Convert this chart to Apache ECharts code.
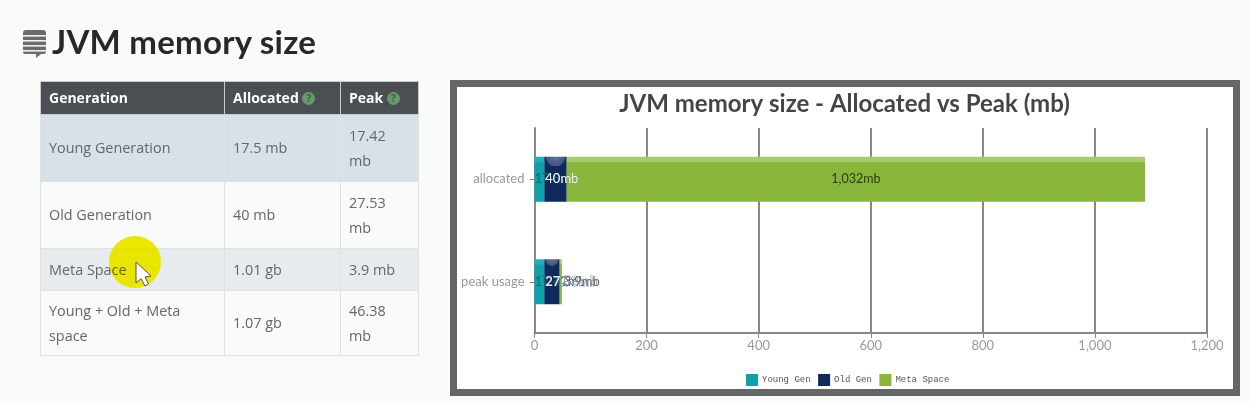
<!DOCTYPE html>
<html>
<head>
<meta charset="utf-8">
<script src="https://cdn.jsdelivr.net/npm/echarts@6/dist/echarts.min.js"></script>
<style>
html,body{margin:0;padding:0;width:1250px;height:403px;overflow:hidden;background:#f9fafa;font-family:"Open Sans",sans-serif}
#h{position:absolute;left:52px;top:21px;font:700 33px/40px Lato,sans-serif;color:#26282b;letter-spacing:.25px;white-space:nowrap}
#icon{position:absolute;left:23px;top:30px}
table{position:absolute;left:40px;top:81px;width:378px;border-collapse:collapse;table-layout:fixed;font-family:"Open Sans",sans-serif;font-size:14.4px;line-height:25px;color:#666}
td,th{border:1px solid #dfe2e3;padding:0 8px;text-align:left;font-weight:400;box-sizing:border-box}
td{padding-bottom:1px}
th{background:#4b4e52;color:#fff;font-weight:700;border-color:#c9cccd;height:33px;padding-bottom:2px;font-size:14px}
.q{display:inline-block;width:13px;height:13px;border-radius:50%;background:#659a68;color:#3e5a42;font-size:10px;line-height:13px;text-align:center;font-weight:700;vertical-align:1px}
#overlay{position:absolute;left:100px;top:230px;mix-blend-mode:darken}
#cursor{position:absolute;left:100px;top:230px}
#frame{position:absolute;left:450px;top:80px;border:7px solid #666;border-left-width:7.5px;width:775.5px;height:301.5px;background:#fff}
#chart{position:absolute;left:0;top:0;width:775px;height:301px}
</style>
</head>
<body>
<svg id="icon" width="24" height="28" viewBox="0 0 24 28">
<path d="M3 0H20Q23 0 23 3V22Q23 24 20 24H18L13 28V24H3Q0 24 0 22V3Q0 0 3 0Z" fill="#6b6b69"/>
<rect x="0" y="5" width="23" height="1.6" fill="#f0f0ee"/><rect x="0" y="10" width="23" height="1.6" fill="#f0f0ee"/><rect x="0" y="15" width="23" height="1.6" fill="#f0f0ee"/><rect x="0" y="20" width="23" height="1.6" fill="#f0f0ee"/>
</svg>
<div id="h">JVM memory size</div>
<table>
<colgroup><col style="width:184px"><col style="width:116px"><col style="width:78px"></colgroup>
<tr><th>Generation</th><th>Allocated <span class="q">?</span></th><th>Peak <span class="q">?</span></th></tr>
<tr style="background:#d8e1e8;height:67px"><td>Young Generation</td><td>17.5 mb</td><td>17.42<br>mb</td></tr>
<tr style="height:67px"><td>Old Generation</td><td>40 mb</td><td>27.53<br>mb</td></tr>
<tr style="background:#e8ebed;height:42px"><td>Meta Space</td><td>1.01 gb</td><td>3.9 mb</td></tr>
<tr style="height:65px"><td>Young + Old + Meta<br>space</td><td>1.07 gb</td><td>46.38<br>mb</td></tr>
</table>
<svg id="overlay" width="70" height="70" viewBox="0 0 70 70">
<circle cx="35" cy="32" r="26" fill="#ece600"/>
</svg>
<svg id="cursor" width="70" height="70" viewBox="0 0 70 70">
<path d="M36 32V53L41 48.5L45 56L48.5 54L45 47L51 46Z" fill="#fff" stroke="#555" stroke-width="1"/>
</svg>
<div id="frame"><div id="chart"></div></div>
<script>
const categories = ['allocated', 'peak usage'];
const youngGen = [17.5, 17.42];
const oldGen = [40, 27.53];
const metaSpace = [1032, 3.9];
const youngLabels = ['17.5mb', '17.42mb'];
const oldLabels = ['40mb', '27.53mb'];
const metaLabels = ['1,032mb', '3.9mb'];
const xTicks = {min: 0, max: 1200, interval: 200};

const gloss = (base, top) => ({type:'linear',x:0,y:0,x2:0,y2:1,colorStops:[
  {offset:0,color:top},{offset:.11,color:top},{offset:.13,color:base},{offset:1,color:base}]});
const glossNavy = {type:'radial',x:.5,y:0,r:.45,colorStops:[
  {offset:0,color:'#5f7298'},{offset:.95,color:'#41557f'},{offset:.97,color:'#0f2a5c'},{offset:1,color:'#0f2a5c'}]};
const font = 'Lato, "Open Sans", sans-serif';

function series(name, values, labels, itemColor, labelFor) {
  return {
    name, type:'bar', stack:'mem', barWidth:45,
    itemStyle:{color:itemColor},
    data: values.map((v,i)=>({value:v,label:labelFor(i,labels[i])}))
  };
}
const chart = echarts.init(document.getElementById('chart'), null, {renderer:'canvas'});
chart.setOption({
  animation:false,
  backgroundColor:'#fff',
  title:{text:'JVM memory size - Allocated vs Peak (mb)',left:'center',top:0,
    textStyle:{fontFamily:font,fontWeight:700,fontSize:24,color:'#454545'}},
  legend:{top:287,left:289,padding:0,itemWidth:12,itemHeight:12,itemGap:7.5,icon:'rect',
    textStyle:{fontFamily:'"Liberation Mono",monospace',fontSize:9,color:'#555',padding:[0,0,0,-1]},
    data:[{name:'Young Gen',itemStyle:{color:'#0ea0ab'}},{name:'Old Gen',itemStyle:{color:'#0f2a5c'}},{name:'Meta Space',itemStyle:{color:'#88b63a'}}]},
  grid:{left:77.5,right:25,top:41,bottom:55,containLabel:false},
  xAxis:{type:'value',min:xTicks.min,max:xTicks.max,interval:xTicks.interval,
    axisLine:{show:true,lineStyle:{color:'#888',width:2}},
    axisTick:{show:true,length:5,lineStyle:{color:'#888',width:1}},
    splitLine:{show:true,lineStyle:{color:'#888',width:2}},
    axisLabel:{color:'#999',fontFamily:font,fontSize:13,margin:6,
      formatter:v=>v.toLocaleString('en-US')}},
  yAxis:{type:'category',inverse:true,data:categories,
    axisLine:{show:true,lineStyle:{color:'#888',width:2}},
    axisTick:{show:true,length:5,alignWithLabel:true,lineStyle:{color:'#888',width:1}},
    axisLabel:{color:'#999',fontFamily:font,fontSize:13,margin:10,interval:0}},
  series:[
    series('Young Gen',youngGen,youngLabels,gloss('#0ea0ab','#25aeb8'),(i,t)=>({show:true,formatter:t,position:'insideLeft',distance:0,color:'#14686f',textBorderWidth:0,fontFamily:font,fontSize:13})),
    series('Old Gen',oldGen,oldLabels,glossNavy,(i,t)=>({show:true,formatter:t,position:'insideLeft',distance:1,color:i?'#e8eef5':'#fff',textBorderColor:i?'#0b1f47':'transparent',textBorderWidth:i?0.6:0,fontFamily:font,fontWeight:i?700:400,fontSize:13})),
    series('Meta Space',metaSpace,metaLabels,gloss('#88b63a','#a9cb70'),(i,t)=>i===0
      ?{show:true,formatter:t,position:'inside',color:'#2b3a14',textBorderWidth:0,fontFamily:font,fontSize:12.5}
      :{show:true,formatter:t,position:'insideLeft',distance:0,offset:[4,0],color:'#666',textBorderWidth:0,fontFamily:font,fontSize:13})
  ]
});
</script>
</body>
</html>
